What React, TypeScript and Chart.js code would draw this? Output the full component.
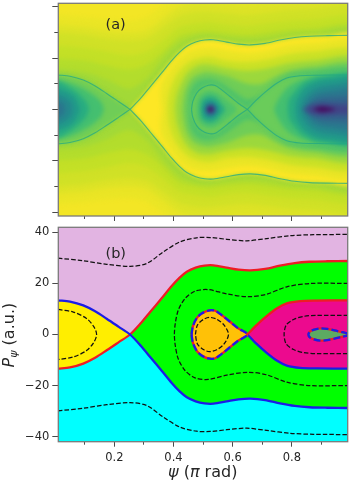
import React, { useEffect, useRef } from "react";
import { Chart, registerables } from "chart.js";

Chart.register(...registerables);

type Pt = [number, number];

// ---- separatrix curves and dashed contours, upper halves (psi, P) ----
const leftLobeUpper: Pt[] = [[0.01, 13.4], [0.05, 12.9], [0.095, 11.4], [0.135, 9.1], [0.174, 6.2], [0.215, 3], [0.253, 0]];
const outerSepUpper: Pt[] = [[0.253, 0], [0.29, 4.5], [0.321, 8.8], [0.36, 14.2], [0.394, 19], [0.42, 22.2], [0.445, 24.6], [0.475, 26.2], [0.505, 27], [0.535, 27.1], [0.58, 26.2], [0.62, 25.4], [0.66, 25.1], [0.71, 25.7], [0.76, 27], [0.81, 28], [0.86, 28.5], [0.92, 28.7], [0.99, 28.8]];
const teardropUpper: Pt[] = [[0.461, 0], [0.465, 3], [0.478, 6.3], [0.495, 8.2], [0.518, 9.4], [0.541, 9.3], [0.563, 7.6], [0.591, 5], [0.619, 2.4], [0.65, 0]];
const rightLobeUpper: Pt[] = [[0.65, 0], [0.681, 3.7], [0.715, 7.2], [0.749, 10.2], [0.783, 12.2], [0.828, 13.1], [0.885, 13.3], [0.99, 13.4]];
const blobUpper: Pt[] = [[0.856, 0], [0.862, 1.2], [0.875, 1.9], [0.895, 2.4], [0.92, 2.2], [0.945, 1.6], [0.97, 0.9], [0.99, 0.4]];

const dashOuter: Pt[] = [[0.01, 29.9], [0.095, 28.9], [0.174, 27.5], [0.253, 26.7], [0.309, 27.8], [0.366, 32.4], [0.422, 36.3], [0.478, 37.9], [0.524, 38], [0.58, 37.3], [0.648, 36.7], [0.715, 37.6], [0.794, 38.7], [0.873, 39.1], [0.99, 39.2]];
const dashGreen: Pt[] = [[0.403, 0], [0.406, 4.3], [0.416, 9.5], [0.439, 14.1], [0.473, 17], [0.518, 17.6], [0.58, 15.9], [0.653, 14.8], [0.715, 15.8], [0.783, 18.7], [0.862, 20], [0.99, 20]];
const dashOrange: Pt[] = [[0.474, 0], [0.481, 3.7], [0.501, 5.9], [0.521, 6.7], [0.546, 6], [0.571, 3.7], [0.586, 0]];
const dashMagenta: Pt[] = [[0.774, 0], [0.781, 3.7], [0.806, 5.9], [0.84, 7.1], [0.885, 7.5], [0.99, 7.5]];
const dashYellow: Pt[] = [[0.01, 9.8], [0.061, 8.8], [0.106, 6.3], [0.131, 3], [0.14, 0]];

// ---- panel (a): contours of the map, upper halves, with their viridis level ----
const outerCols = [-0.02, 0.1, 0.175, 0.25, 0.31, 0.37, 0.42, 0.48, 0.52, 0.58, 0.65, 0.72, 0.79, 0.87, 1.02];
const outerLevels = [0.97, 0.95, 0.93, 0.91, 0.885, 0.86];
const outerP = [
  [37, 36, 35, 34.5, 36, 41, 45, 47, 47.5, 47, 46, 47, 48, 49, 49],
  [33, 32, 30.5, 30, 31, 36, 40, 42, 42, 41.5, 41, 42, 43, 43.5, 43.5],
  [30, 29, 27.5, 26.7, 27.8, 32.4, 36.3, 37.9, 38, 37.3, 36.7, 37.6, 38.7, 39.1, 39.2],
  [25, 24, 22.5, 21, 22.5, 27.5, 32, 33.5, 34, 33, 32.5, 33.5, 34.5, 35, 35],
  [20, 19, 17, 15.5, 17.5, 23, 28.5, 30, 30.5, 29.7, 29, 30, 31, 31.5, 31.5],
  [16, 14.5, 11.5, 8, 12, 20.5, 26, 28.7, 29, 28, 27.5, 28, 29.5, 30, 30.2],
];
const greenLevels = [0.97, 0.92, 0.85, 0.78, 0.72];
const greenContours: Pt[][] = [
  [[0.36, 0], [0.355, 5], [0.36, 10], [0.385, 15], [0.42, 20], [0.46, 23], [0.52, 24], [0.58, 23], [0.65, 22], [0.72, 23], [0.79, 25], [0.87, 25.8], [1.02, 26]],
  [[0.38, 0], [0.383, 5], [0.395, 10], [0.42, 15], [0.46, 19], [0.52, 20.5], [0.58, 19], [0.65, 18.5], [0.72, 19.5], [0.79, 21.5], [0.87, 22.5], [1.02, 22.5]],
  [[0.405, 0], [0.41, 5], [0.425, 10], [0.445, 14], [0.48, 17], [0.52, 17.5], [0.58, 16], [0.65, 15], [0.72, 16], [0.79, 18], [0.87, 19], [1.02, 19.5]],
  [[0.43, 0], [0.435, 5], [0.445, 9], [0.465, 12.5], [0.49, 14], [0.52, 14.5], [0.58, 13], [0.65, 10], [0.7, 10], [0.74, 12.5], [0.79, 15], [0.87, 16.5], [1.02, 17]],
  [[0.45, 0], [0.452, 4], [0.46, 8], [0.48, 11], [0.52, 12], [0.56, 10.5], [0.6, 7.5], [0.65, 4], [0.7, 6], [0.74, 10], [0.79, 13.5], [0.87, 15], [1.02, 15]],
];
const teardropLevels = [0.72, 0.62, 0.5, 0.38, 0.22, 0.02];
const teardropContours: Pt[][] = [
  [[0.475, 0], [0.48, 4], [0.5, 6.7], [0.525, 7.5], [0.55, 6.5], [0.58, 4], [0.615, 0]],
  [[0.49, 0], [0.495, 3.5], [0.51, 5], [0.525, 5.3], [0.545, 4.5], [0.56, 2.5], [0.575, 0]],
  [[0.5, 0], [0.505, 2.5], [0.525, 3.5], [0.54, 2.7], [0.555, 0]],
  [[0.508, 0], [0.515, 1.8], [0.525, 2.4], [0.537, 1.7], [0.545, 0]],
  [[0.512, 0], [0.525, 1.4], [0.538, 0]],
  [[0.516, 0], [0.525, 0.9], [0.534, 0]],
];
const rightLevels = [0.7, 0.62, 0.54, 0.47, 0.4, 0.33, 0.27, 0.2, 0.03];
const rightContours: Pt[][] = [
  [[0.74, 0], [0.75, 3], [0.77, 6.5], [0.79, 9], [0.82, 11], [0.86, 12.5], [0.9, 13.2], [1.02, 13.3]],
  [[0.785, 0], [0.79, 4], [0.81, 7], [0.83, 9.5], [0.86, 11.5], [0.89, 12.7], [1.02, 12.9]],
  [[0.81, 0], [0.815, 3.5], [0.83, 6.5], [0.85, 9], [0.88, 10.8], [0.92, 11.8], [1.02, 12]],
  [[0.83, 0], [0.835, 3], [0.85, 5.5], [0.87, 7.5], [0.9, 9], [0.94, 9.7], [1.02, 10]],
  [[0.85, 0], [0.852, 2.5], [0.865, 4.5], [0.89, 6.3], [0.93, 7.2], [1.02, 7.5]],
  [[0.86, 0], [0.865, 2], [0.88, 3.7], [0.91, 4.7], [0.95, 5], [1.02, 5]],
  [[0.835, 0], [0.86, 1.8], [0.9, 2.8], [0.95, 2.8], [1.02, 2.5]],
  [[0.85, 0], [0.87, 1.1], [0.9, 1.8], [0.95, 1.5], [1.02, 1]],
  [[0.87, 0], [0.9, 1.1], [0.93, 0.6], [0.95, 0]],
];
const leftLevels = [0.7, 0.62, 0.54, 0.47, 0.4, 0.34];
const leftContours: Pt[][] = [
  [[0.165, 0], [0.155, 3], [0.125, 6], [0.08, 9], [0.03, 11], [-0.02, 11.5]],
  [[0.115, 0], [0.105, 3], [0.08, 6], [0.05, 8.5], [0.02, 10.5], [-0.02, 11]],
  [[0.085, 0], [0.075, 3], [0.06, 5.5], [0.03, 7.5], [-0.02, 8.5]],
  [[0.06, 0], [0.055, 2.5], [0.035, 4.5], [0.01, 5.8], [-0.02, 6]],
  [[0.035, 0], [0.03, 2], [0.01, 3.5], [-0.02, 4]],
  [[0.015, 0], [0.01, 1], [-0.02, 1.5]],
];

// ---- axes and text ----
const psiRange = [0.0105, 0.989];
const pRangeTop = [-41.5, 41.3];
const pRangeBottom = [-42, 42];
const panelA = { text: "(a)", psi: 0.17, P: 31.2 };
const panelB = { text: "(b)", psi: 0.17, P: 29.8 };

// ---- drawing helpers ----
const STOPS = ["#440154", "#482475", "#414487", "#355f8d", "#2a788e", "#21918c", "#22a884", "#44bf70", "#7ad151", "#bddf26", "#fde725"];
function viridis(t: number, alpha = 1): string {
  const f = Math.max(0, Math.min(0.9999, t)) * 10;
  const i = Math.floor(f);
  const c = (h: string, o: number) => parseInt(h.slice(o, o + 2), 16);
  const mix = (o: number) => Math.round(c(STOPS[i], o) + (c(STOPS[i + 1], o) - c(STOPS[i], o)) * (f - i));
  return `rgba(${mix(1)},${mix(3)},${mix(5)},${alpha})`;
}
const mirror = (p: Pt[]): Pt[] => p.map(([x, y]) => [x, -y] as Pt);
const closed = (p: Pt[]): Pt[] => [...p, ...mirror(p).reverse().slice(1)];
// Open curve: upper branch back to its vertex on P = 0, then out along the lower branch.
const hairpin = (p: Pt[]): Pt[] => [...p.slice().reverse(), ...mirror(p).slice(1)];
const xy = (p: Pt[]) => p.map(([x, y]) => ({ x, y }));
const fillSet = (p: Pt[], color: string, tension = 0.3) => ({
  data: xy(p), showLine: true, fill: "shape", backgroundColor: color, borderWidth: 0, borderColor: "transparent",
  pointRadius: 0, tension, capBezierPoints: false,
});
const lineSet = (p: Pt[], color: string, width: number, dash: number[] = []) => ({
  data: xy(p), showLine: true, fill: false, borderColor: color, borderWidth: width, borderDash: dash,
  pointRadius: 0, tension: 0.3, capBezierPoints: false, borderCapStyle: "butt",
});

const FONT = '"DejaVu Sans"';
const TEXT = "#262626";
const TICK = "#4a4a4a";

type Run = { t: string; style?: string; scale?: number; drop?: number };
function drawRuns(ctx: CanvasRenderingContext2D, x: number, y: number, rot: number, size: number, runs: Run[]) {
  ctx.save();
  ctx.translate(x, y);
  ctx.rotate(rot);
  ctx.fillStyle = TEXT;
  ctx.textBaseline = "alphabetic";
  ctx.textAlign = "left";
  let cx = 0;
  for (const r of runs) {
    ctx.font = `${r.style ?? "normal"} ${size * (r.scale ?? 1)}px ${FONT}`;
    ctx.fillText(r.t, cx, r.drop ?? 0);
    cx += ctx.measureText(r.t).width;
  }
  ctx.restore();
}

const frame = {
  id: "frame",
  afterDraw(chart: any) {
    const { ctx, chartArea: a } = chart;
    ctx.save();
    ctx.strokeStyle = "#7a7a7a";
    ctx.lineWidth = 1.3;
    ctx.strokeRect(a.left, a.top, a.right - a.left, a.bottom - a.top);
    ctx.restore();
  },
};
const labelPlugin = (lab: { text: string; psi: number; P: number }) => ({
  id: "panelLabel",
  afterDraw(chart: any) {
    const { ctx, scales } = chart;
    drawRuns(ctx, scales.x.getPixelForValue(lab.psi), scales.y.getPixelForValue(lab.P), 0, 14.5, [{ t: lab.text }]);
  },
});
// The filler draws a dataset's fill in its own beforeDatasetDraw, which runs before this
// plugin's hook: fills get the full blur, the stroked curves only a light one.
const BLUR = "blur(2.2px)";
const blurFills = {
  id: "blurFills",
  beforeDatasetsDraw(chart: any) {
    chart.ctx.save();
    chart.ctx.filter = BLUR;
  },
  beforeDatasetDraw(chart: any) {
    chart.ctx.filter = "blur(0.4px)";
  },
  afterDatasetDraw(chart: any) {
    chart.ctx.filter = BLUR;
  },
  afterDatasetsDraw(chart: any) {
    chart.ctx.restore();
  },
};
const axisTitles = {
  id: "axisTitles",
  afterDraw(chart: any) {
    const { ctx, canvas } = chart;
    const top = canvas.offsetTop;
    drawRuns(ctx, 168, 477 - top, 0, 16, [
      { t: "ψ", style: "italic" }, { t: " (" }, { t: "π", style: "italic" }, { t: " rad)" },
    ]);
    drawRuns(ctx, 14, 367.5 - top, -Math.PI / 2, 16, [
      { t: "P", style: "italic" }, { t: "ψ", style: "italic", scale: 0.7, drop: 3 }, { t: " (a.u.)" },
    ]);
  },
};

function axes(yRange: number[], opts: { xHeight: number; yLabels: boolean; yMinor: boolean }) {
  const minus = (v: any) => String(v).replace("-", "\u2212");
  const xBase = { type: "linear", min: psiRange[0], max: psiRange[1], position: "bottom", border: { display: false } };
  const yBase = { type: "linear", min: yRange[0], max: yRange[1], position: "left", border: { display: false } };
  const scales: any = {
    x: {
      ...xBase, weight: 1,
      grid: { drawOnChartArea: false, tickLength: 5, tickColor: TICK, tickWidth: 1 },
      ticks: opts.yLabels
        ? { display: true, stepSize: 0.2, includeBounds: false, padding: 4.5, color: TEXT, font: { family: FONT, size: 11.5 }, maxRotation: 0, autoSkip: false }
        : { display: false, stepSize: 0.2, includeBounds: false },
      afterFit: (s: any) => { s.height = opts.xHeight; },
    },
    xm: {
      ...xBase, weight: -1,
      grid: { drawOnChartArea: false, tickLength: 3, tickColor: TICK, tickWidth: 1 },
      ticks: { display: false, stepSize: 0.1, includeBounds: false },
      afterFit: (s: any) => { s.height = 0; },
    },
    y: {
      ...yBase, weight: 1,
      grid: { drawOnChartArea: false, tickLength: 6, tickColor: TICK, tickWidth: 1 },
      ticks: opts.yLabels
        ? { display: true, stepSize: 20, includeBounds: false, padding: 3, color: TEXT, font: { family: FONT, size: 11.5 }, autoSkip: false, callback: minus }
        : { display: false, stepSize: 20, includeBounds: false },
      afterFit: (s: any) => { s.width = 58.3; },
    },
  };
  if (opts.yMinor) {
    scales.ym = {
      ...yBase, weight: -1,
      grid: { drawOnChartArea: false, tickLength: 4, tickColor: TICK, tickWidth: 1 },
      ticks: { display: false, stepSize: 10, includeBounds: false },
      afterFit: (s: any) => { s.width = 0; },
    };
  }
  return scales;
}

function topDatasets() {
  const back: Pt[] = [[-0.02, 60], [1.02, 60], [1.02, -60], [-0.02, -60]];
  const sets: any[] = [fillSet(back, viridis(0.985), 0)];
  outerP.forEach((row, i) => {
    const upper = outerCols.map((x, j) => [x, row[j]] as Pt);
    sets.push(fillSet([...upper, ...mirror(upper).reverse()], viridis(outerLevels[i])));
  });
  const sepFull: Pt[] = [[-0.02, leftLobeUpper[0][1]], ...leftLobeUpper.slice(0, -1), ...outerSepUpper.slice(0, -1), [1.02, 28.8]];
  sets.push(fillSet([...sepFull, ...mirror(sepFull).reverse()], viridis(0.84)));
  const central: Pt[] = [...outerSepUpper.slice(0, -1), [1.02, 28.8]];
  sets.push(fillSet([...central, ...mirror(central).reverse().slice(0, -1)], viridis(1)));
  greenContours.forEach((c, i) => sets.push(fillSet([...c, ...mirror(c).reverse().slice(0, -1)], viridis(greenLevels[i]))));
  const rightFull: Pt[] = [...rightLobeUpper.slice(0, -1), [1.02, 13.4]];
  sets.push(fillSet([...rightFull, ...mirror(rightFull).reverse().slice(0, -1)], viridis(0.77)));
  rightContours.forEach((c, i) => sets.push(fillSet([...c, ...mirror(c).reverse().slice(0, -1)], viridis(rightLevels[i]))));
  sets.push(fillSet(closed(teardropUpper), viridis(0.78)));
  teardropContours.forEach((c, i) => sets.push(fillSet(closed(c), viridis(teardropLevels[i]))));
  const leftFull: Pt[] = [[-0.02, 13.4], ...leftLobeUpper];
  sets.push(fillSet([...leftFull, ...mirror(leftFull).reverse().slice(1)], viridis(0.78)));
  leftContours.forEach((c, i) => sets.push(fillSet([...c, ...mirror(c).reverse().slice(0, -1)], viridis(leftLevels[i]))));
  const sep = viridis(0.6, 0.75);
  const allCurves = [leftLobeUpper, outerSepUpper, rightLobeUpper, teardropUpper];
  for (const c of allCurves) {
    sets.push(lineSet(c, sep, 1.1));
    sets.push(lineSet(mirror(c), sep, 1.1));
  }
  return sets.reverse();
}

function bottomDatasets() {
  const upperBound: Pt[] = [...leftLobeUpper.slice(0, -1), ...outerSepUpper];
  const lowerBound = mirror(upperBound);
  const sets: any[] = [
    fillSet([[0.005, 60], ...upperBound, [1.02, 28.8], [1.02, 60]], "#e2b4e2"),
    fillSet([[0.005, -60], ...lowerBound, [1.02, -28.8], [1.02, -60]], "#00ffff"),
    fillSet([...outerSepUpper, [1.02, 28.8], [1.02, -28.8], ...mirror(outerSepUpper).reverse().slice(0, -1)], "#00ff00"),
    fillSet([...rightLobeUpper, [1.02, 13.4], [1.02, -13.4], ...mirror(rightLobeUpper).reverse().slice(0, -1)], "#ec0a8e"),
    fillSet([[0.0, 13.4], ...leftLobeUpper, ...mirror(leftLobeUpper).reverse().slice(1), [0.0, -13.4]], "#ffee00"),
    fillSet(closed(teardropUpper), "#ffc107"),
    fillSet([...blobUpper, [1.02, 0.4], [1.02, -0.4], ...mirror(blobUpper).reverse().slice(0, -1)], "#5cab62"),
  ];
  const RED = "#ee1c25";
  const BLUE = "#1c1ce6";
  const W = 2.3;
  sets.push(lineSet([...mirror(leftLobeUpper), ...outerSepUpper.slice(1)], RED, W));
  sets.push(lineSet([...leftLobeUpper, ...mirror(outerSepUpper).slice(1)], BLUE, W));
  sets.push(lineSet(rightLobeUpper, RED, W));
  sets.push(lineSet(mirror(rightLobeUpper), BLUE, W));
  sets.push(lineSet(closed(teardropUpper), RED, W));
  sets.push(lineSet(closed(teardropUpper), BLUE, W, [7, 3]));
  sets.push(lineSet(hairpin(blobUpper), RED, W));
  sets.push(lineSet(hairpin(blobUpper), BLUE, W, [7, 3]));
  const DASH = [4.5, 2];
  const k = "#111111";
  sets.push(lineSet(dashOuter, k, 1.25, DASH));
  sets.push(lineSet(mirror(dashOuter), k, 1.25, DASH));
  sets.push(lineSet(hairpin(dashGreen), k, 1.25, DASH));
  sets.push(lineSet(closed(dashOrange), k, 1.25, DASH));
  sets.push(lineSet(hairpin(dashMagenta), k, 1.25, DASH));
  sets.push(lineSet(closed(dashYellow), k, 1.25, DASH));
  return sets.reverse();
}

const BASE = {
  responsive: false,
  animation: false,
  events: [] as string[],
};

export default function App() {
  const topRef = useRef<HTMLCanvasElement>(null);
  const botRef = useRef<HTMLCanvasElement>(null);
  useEffect(() => {
    const a = new Chart(topRef.current as any, {
      type: "scatter",
      data: { datasets: topDatasets() },
      options: {
        ...BASE,
        layout: { padding: { top: 3.3, right: 5.3, left: 0, bottom: 0 } },
        plugins: { legend: { display: false }, tooltip: { enabled: false } },
        scales: axes(pRangeTop, { xHeight: 6, yLabels: false, yMinor: true }),
      } as any,
      plugins: [blurFills, frame, labelPlugin(panelA)],
    });
    const b = new Chart(botRef.current as any, {
      type: "scatter",
      data: { datasets: bottomDatasets() },
      options: {
        ...BASE,
        layout: { padding: { top: 22.3, right: 5.3, left: 0, bottom: 0 } },
        plugins: { legend: { display: false }, tooltip: { enabled: false } },
        scales: axes(pRangeBottom, { xHeight: 41.3, yLabels: true, yMinor: false }),
      } as any,
      plugins: [frame, labelPlugin(panelB), axisTitles],
    });
    return () => {
      a.destroy();
      b.destroy();
    };
  }, []);
  const cs: React.CSSProperties = { position: "absolute", left: 0, display: "block", filter: "blur(0.4px)" };
  return (
    <div style={{ position: "absolute", left: 0, top: 0, width: 353, height: 483, overflow: "hidden", background: "#fff" }}>
      <canvas ref={topRef} width={353} height={222} style={{ ...cs, top: 0 }} />
      <canvas ref={botRef} width={353} height={278} style={{ ...cs, top: 205 }} />
    </div>
  );
}
